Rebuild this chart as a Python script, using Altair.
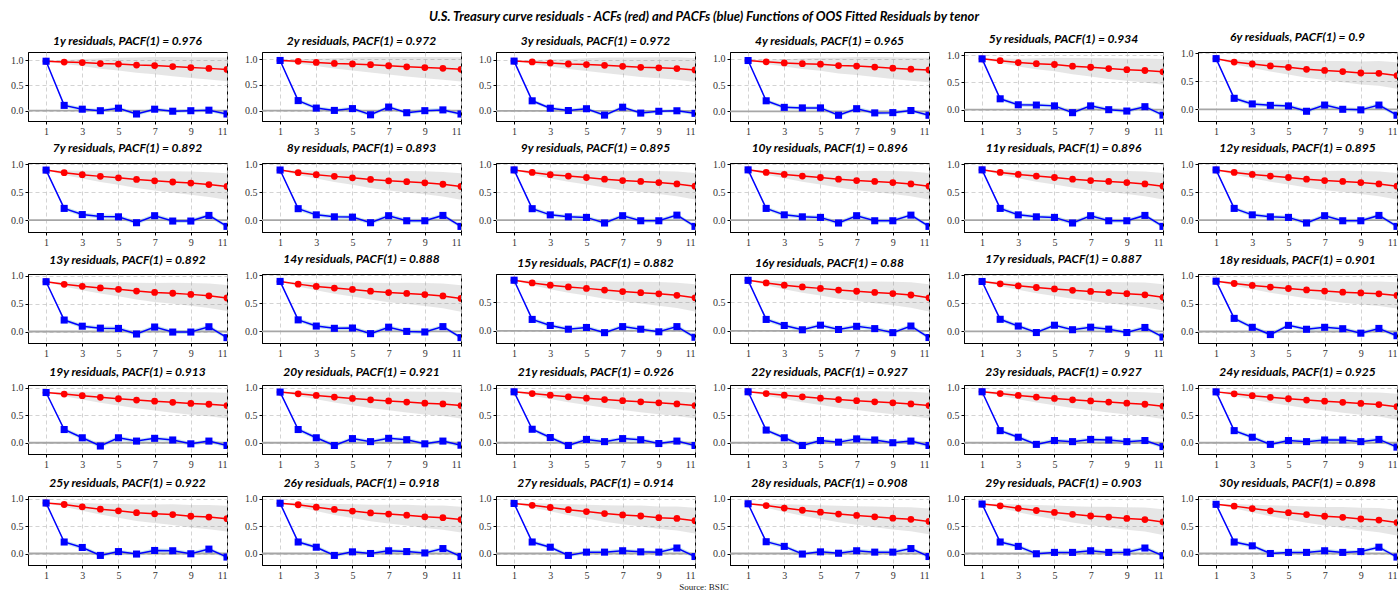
import altair as alt
import pandas as pd

LAGS = list(range(1, 12))
TENORS = list(range(1, 31))

# ACF values (lags 1..11), one list per tenor, grouped by chart row
ACF_ROW1 = [
    [0.976, 0.96, 0.95, 0.93, 0.92, 0.90, 0.89, 0.87, 0.85, 0.835, 0.815],
    [0.972, 0.955, 0.935, 0.915, 0.905, 0.89, 0.87, 0.85, 0.835, 0.82, 0.80],
    [0.972, 0.955, 0.935, 0.915, 0.905, 0.89, 0.87, 0.85, 0.84, 0.825, 0.80],
    [0.965, 0.94, 0.92, 0.905, 0.895, 0.87, 0.86, 0.84, 0.82, 0.80, 0.785],
    [0.934, 0.90, 0.865, 0.845, 0.83, 0.80, 0.78, 0.755, 0.735, 0.72, 0.695],
    [0.90, 0.84, 0.805, 0.77, 0.745, 0.71, 0.69, 0.67, 0.645, 0.64, 0.60],
]
ACF_ROW2 = [
    [0.892, 0.845, 0.81, 0.78, 0.755, 0.725, 0.70, 0.68, 0.66, 0.635, 0.60],
    [0.893, 0.845, 0.81, 0.78, 0.755, 0.725, 0.70, 0.685, 0.665, 0.64, 0.60],
    [0.895, 0.85, 0.81, 0.785, 0.76, 0.73, 0.705, 0.69, 0.67, 0.645, 0.605],
    [0.896, 0.85, 0.815, 0.785, 0.76, 0.73, 0.705, 0.69, 0.67, 0.645, 0.605],
    [0.896, 0.85, 0.815, 0.785, 0.76, 0.73, 0.705, 0.69, 0.67, 0.645, 0.605],
    [0.895, 0.85, 0.815, 0.785, 0.76, 0.73, 0.705, 0.69, 0.67, 0.645, 0.605],
]
ACF_ROW3 = [
    [0.892, 0.845, 0.81, 0.78, 0.755, 0.725, 0.70, 0.685, 0.665, 0.64, 0.60],
    [0.888, 0.84, 0.80, 0.77, 0.745, 0.715, 0.69, 0.675, 0.655, 0.63, 0.585],
    [0.882, 0.835, 0.795, 0.765, 0.74, 0.71, 0.685, 0.665, 0.645, 0.62, 0.575],
    [0.88, 0.835, 0.795, 0.765, 0.74, 0.71, 0.69, 0.67, 0.65, 0.625, 0.575],
    [0.887, 0.845, 0.81, 0.78, 0.755, 0.73, 0.71, 0.69, 0.67, 0.65, 0.605],
    [0.901, 0.86, 0.825, 0.795, 0.77, 0.745, 0.725, 0.705, 0.69, 0.675, 0.645],
]
ACF_ROW4 = [
    [0.913, 0.885, 0.855, 0.825, 0.80, 0.775, 0.755, 0.735, 0.715, 0.70, 0.675],
    [0.921, 0.89, 0.86, 0.83, 0.805, 0.78, 0.76, 0.74, 0.72, 0.705, 0.675],
    [0.926, 0.895, 0.865, 0.835, 0.81, 0.785, 0.765, 0.745, 0.725, 0.705, 0.675],
    [0.927, 0.895, 0.865, 0.835, 0.81, 0.785, 0.765, 0.745, 0.725, 0.705, 0.675],
    [0.927, 0.895, 0.86, 0.83, 0.805, 0.78, 0.76, 0.74, 0.72, 0.70, 0.665],
    [0.925, 0.89, 0.855, 0.825, 0.80, 0.775, 0.755, 0.735, 0.715, 0.695, 0.655],
]
ACF_ROW5 = [
    [0.922, 0.895, 0.85, 0.81, 0.78, 0.745, 0.725, 0.71, 0.68, 0.665, 0.635],
    [0.918, 0.89, 0.845, 0.805, 0.775, 0.74, 0.72, 0.70, 0.67, 0.655, 0.62],
    [0.914, 0.88, 0.84, 0.80, 0.765, 0.73, 0.705, 0.685, 0.655, 0.64, 0.60],
    [0.908, 0.875, 0.83, 0.79, 0.755, 0.72, 0.695, 0.67, 0.645, 0.625, 0.585],
    [0.903, 0.87, 0.825, 0.785, 0.75, 0.715, 0.685, 0.665, 0.64, 0.62, 0.575],
    [0.898, 0.865, 0.82, 0.78, 0.745, 0.71, 0.68, 0.66, 0.63, 0.61, 0.565],
]

# PACF values (lags 1..11)
PACF_ROW1 = [
    [0.976, 0.105, 0.03, 0.0, 0.05, -0.065, 0.03, -0.01, 0.0, 0.01, -0.065],
    [0.972, 0.195, 0.05, 0.005, 0.04, -0.08, 0.07, -0.04, 0.0, 0.015, -0.065],
    [0.972, 0.195, 0.05, 0.005, 0.04, -0.085, 0.07, -0.045, -0.01, 0.0, -0.05],
    [0.965, 0.20, 0.075, 0.065, 0.065, -0.075, 0.05, -0.03, -0.025, 0.015, -0.075],
    [0.934, 0.20, 0.09, 0.085, 0.07, -0.055, 0.07, 0.0, -0.025, 0.055, -0.10],
    [0.90, 0.195, 0.095, 0.07, 0.06, -0.035, 0.075, 0.0, -0.01, 0.075, -0.105],
]
PACF_ROW2 = [
    [0.892, 0.21, 0.10, 0.065, 0.06, -0.045, 0.08, -0.015, -0.015, 0.085, -0.11],
    [0.893, 0.205, 0.095, 0.06, 0.055, -0.045, 0.08, -0.01, -0.01, 0.085, -0.11],
    [0.895, 0.205, 0.095, 0.06, 0.05, -0.05, 0.08, -0.01, -0.01, 0.09, -0.11],
    [0.896, 0.21, 0.095, 0.06, 0.05, -0.05, 0.08, -0.01, -0.01, 0.09, -0.11],
    [0.896, 0.21, 0.095, 0.06, 0.05, -0.05, 0.08, -0.01, -0.01, 0.085, -0.11],
    [0.895, 0.21, 0.095, 0.06, 0.05, -0.05, 0.08, -0.01, -0.01, 0.085, -0.11],
]
PACF_ROW3 = [
    [0.892, 0.205, 0.095, 0.06, 0.055, -0.045, 0.08, -0.01, -0.01, 0.085, -0.11],
    [0.888, 0.205, 0.095, 0.055, 0.06, -0.04, 0.075, 0.0, -0.01, 0.085, -0.11],
    [0.882, 0.20, 0.095, 0.03, 0.06, -0.03, 0.075, 0.03, -0.015, 0.075, -0.11],
    [0.88, 0.20, 0.095, 0.02, 0.10, 0.025, 0.08, 0.04, -0.03, 0.085, -0.115],
    [0.887, 0.215, 0.095, -0.02, 0.11, 0.03, 0.075, 0.04, -0.02, 0.07, -0.10],
    [0.901, 0.235, 0.075, -0.055, 0.11, 0.04, 0.075, 0.05, -0.03, 0.055, -0.075],
]
PACF_ROW4 = [
    [0.913, 0.24, 0.09, -0.06, 0.09, 0.03, 0.08, 0.05, -0.02, 0.03, -0.05],
    [0.921, 0.24, 0.09, -0.05, 0.075, 0.02, 0.08, 0.055, -0.02, 0.03, -0.045],
    [0.926, 0.245, 0.095, -0.05, 0.06, 0.02, 0.075, 0.055, -0.015, 0.03, -0.05],
    [0.927, 0.23, 0.09, -0.05, 0.04, 0.01, 0.07, 0.05, 0.0, 0.03, -0.05],
    [0.927, 0.22, 0.10, -0.03, 0.04, 0.02, 0.06, 0.05, 0.02, 0.04, -0.07],
    [0.925, 0.22, 0.10, -0.03, 0.04, 0.02, 0.05, 0.05, 0.02, 0.06, -0.08],
]
PACF_ROW5 = [
    [0.922, 0.21, 0.11, -0.035, 0.035, -0.01, 0.055, 0.05, -0.005, 0.08, -0.065],
    [0.918, 0.21, 0.115, -0.035, 0.03, 0.0, 0.05, 0.035, 0.01, 0.09, -0.055],
    [0.914, 0.21, 0.115, -0.035, 0.025, 0.025, 0.05, 0.03, 0.025, 0.10, -0.055],
    [0.908, 0.215, 0.13, -0.01, 0.03, 0.005, 0.05, 0.025, 0.025, 0.09, -0.055],
    [0.903, 0.21, 0.13, -0.005, 0.02, 0.02, 0.05, 0.02, 0.025, 0.10, -0.04],
    [0.898, 0.21, 0.14, 0.0, 0.02, 0.02, 0.05, 0.02, 0.035, 0.115, -0.065],
]

# confidence band half-widths by lag
ACF_BAND = [0.0, 0.04, 0.07, 0.1, 0.125, 0.15, 0.17, 0.19, 0.205, 0.22, 0.235]
PACF_BAND = [0.0, 0.035, 0.035, 0.035, 0.035, 0.035, 0.035, 0.035, 0.035, 0.035, 0.035]

# y-axis limits for each panel
Y_LO = [-0.203, -0.2, -0.2, -0.184, -0.208, -0.208] + [-0.21] * 6 + \
       [-0.206, -0.206, -0.21, -0.21, -0.206, -0.206] + [-0.205] * 6 + [-0.21] * 6
Y_HI = [1.158, 1.136, 1.15, 1.127, 1.06, 1.018] + [1.018] * 6 + \
       [1.03, 1.02, 0.99, 0.99, 1.02, 1.03] + [1.05] * 6 + [1.05] * 6

ACF = ACF_ROW1 + ACF_ROW2 + ACF_ROW3 + ACF_ROW4 + ACF_ROW5
PACF = PACF_ROW1 + PACF_ROW2 + PACF_ROW3 + PACF_ROW4 + PACF_ROW5
ZERO = [0.0]

TITLE_FONT = "Lato"
TICK_FONT = "Liberation Serif"
RED = "#ff0000"
BLUE = "#0000ff"


def panel(i):
    acf = ACF[i]
    pacf = PACF[i]
    df = pd.DataFrame({
        "lag": LAGS,
        "acf": acf,
        "pacf": pacf,
        "acf_lo": [a - b for a, b in zip(acf, ACF_BAND)],
        "acf_hi": [a + b for a, b in zip(acf, ACF_BAND)],
        "pacf_lo": [a - b for a, b in zip(pacf, PACF_BAND)],
        "pacf_hi": [a + b for a, b in zip(pacf, PACF_BAND)],
    })
    lo, hi = Y_LO[i], Y_HI[i]
    yticks = [v for v in (0.0, 0.5, 1.0) if lo <= v <= hi]
    xs = alt.Scale(domain=[0, 11], nice=False, zero=False)
    ys = alt.Scale(domain=[lo, hi], nice=False, zero=False)
    xax = alt.Axis(values=[1, 3, 5, 7, 9, 11], title=None, format="d")
    yax = alt.Axis(values=yticks, title=None, format=".1f")
    X = alt.X("lag:Q", scale=xs, axis=xax)

    def Y(f):
        return alt.Y(f"{f}:Q", scale=ys, axis=yax)

    base = alt.Chart(df)
    acf_band = base.mark_area(color="gray", opacity=0.2, clip=True).encode(
        x=X, y=Y("acf_lo"), y2="acf_hi")
    pacf_band = base.mark_area(color="#add8e6", opacity=0.7, clip=True).encode(
        x=X, y=Y("pacf_lo"), y2="pacf_hi")
    zero = alt.Chart(pd.DataFrame({"z": ZERO})).mark_rule(
        color="#a6a6a6", strokeWidth=1.8, clip=True).encode(y=Y("z"))
    acf_line = base.mark_line(color=RED, strokeWidth=1.5, clip=True).encode(
        x=X, y=Y("acf"))
    acf_pts = base.mark_point(shape="circle", filled=True, size=46, color=RED,
                              opacity=1, clip=True).encode(x=X, y=Y("acf"))
    pacf_line = base.mark_line(color=BLUE, strokeWidth=1.5, clip=True).encode(
        x=X, y=Y("pacf"))
    pacf_pts = base.mark_point(shape="square", filled=True, size=50, color=BLUE,
                               opacity=1, clip=True).encode(x=X, y=Y("pacf"))
    title = f"{TENORS[i]}y residuals, PACF(1) = {pacf[0]}"
    return alt.layer(acf_band, pacf_band, zero, acf_line, acf_pts, pacf_line,
                     pacf_pts).properties(
        width=199, height=69,
        view=alt.ViewBackground(stroke="black", strokeWidth=1, fill="white"),
        title=alt.TitleParams(title, font=TITLE_FONT, fontSize=12,
                              fontWeight="bold", fontStyle="italic",
                              color="black", anchor="middle", offset=4))


grid = alt.concat(
    *[panel(i) for i in range(30)],
    columns=6,
    spacing={"row": 42, "column": 35},
    bounds="flush",
    title=alt.TitleParams(
        "U.S. Treasury curve residuals - ACFs (red) and PACFs (blue) Functions of OOS Fitted Residuals by tenor",
        font=TITLE_FONT, fontSize=13, fontWeight="bold", fontStyle="italic",
        color="black", anchor="middle", offset=7),
)

chart = alt.vconcat(
    grid,
    title=alt.TitleParams("Source: BSIC", orient="bottom", anchor="middle",
                          font=TICK_FONT, fontSize=9, fontWeight="normal",
                          color="#222222", offset=2),
).properties(
    padding={"left": 10, "top": 10, "right": 0, "bottom": 0},
    background="white",
).configure_view(
    stroke="black", strokeWidth=1
).configure_axis(
    labelFont=TICK_FONT, labelFontSize=10, labelColor="#333333",
    tickColor="black", tickSize=3, labelPadding=2,
    domainColor="black", domainWidth=1,
    grid=True, gridColor="#c8c8c8", gridDash=[4, 3], gridWidth=0.8,
)

chart.save("out.html", embed_options={"renderer": "svg", "actions": False})
